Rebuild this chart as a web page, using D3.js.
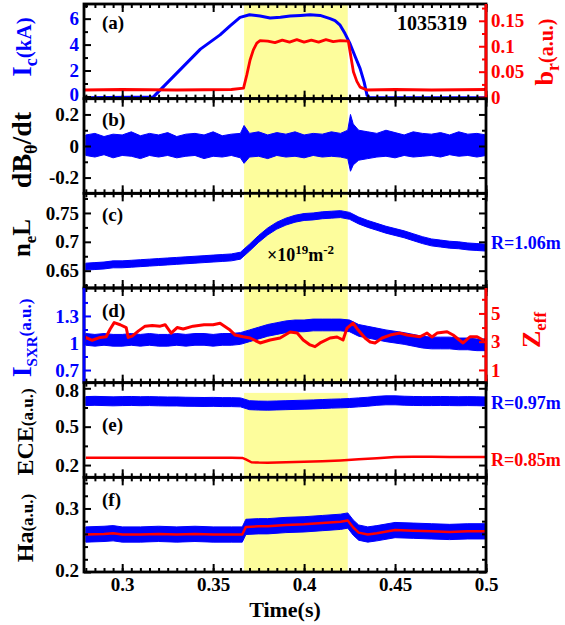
<!DOCTYPE html>
<html><head><meta charset="utf-8">
<script src="https://cdn.jsdelivr.net/npm/d3@7"></script>
<style>
body{margin:0;background:#fff}
text{font-family:"Liberation Serif","Times New Roman",serif;font-weight:bold}
</style>
</head><body>
<svg id="c" width="565" height="625"></svg>
<script>
// ---------------- DATA ----------------
const shotNumber = "1035319";
const shadeWindow = [0.367, 0.424];
const xMajorTicks = [0.3, 0.35, 0.4, 0.45, 0.5];
const xTickLabels = ["0.3", "0.35", "0.4", "0.45", "0.5"];

const tGrid = [0.28,0.285,0.29,0.295,0.30,0.305,0.31,0.315,0.32,0.325,0.33,0.335,0.34,0.345,0.35,0.355,0.36,0.365,0.37,0.375,0.38,0.385,0.39,0.395,0.40,0.405,0.41,0.415,0.42,0.425,0.43,0.435,0.44,0.445,0.45,0.455,0.46,0.465,0.47,0.475,0.48,0.485,0.49,0.495,0.50];

// (a) coil current Ic (kA) and br (a.u.)
const icT = [0.279,0.317,0.343,0.3538,0.3593,0.3648,0.370,0.3758,0.3813,0.387,0.3923,0.398,0.4033,0.4088,0.4143,0.417,0.4198,0.4225,0.4253,0.428,0.4308,0.433,0.4346,0.436,0.5];
const icV = [-0.1,-0.05,3.65,4.75,5.45,6.1,6.3,6.2,6.05,6.1,6.2,6.25,6.3,6.25,6.0,5.85,5.5,4.85,4.05,3.1,2.15,1.1,0.1,-0.1,-0.1];
const brT = [0.279,0.30,0.33,0.36,0.3667,0.3685,0.3703,0.3721,0.374,0.3758,0.38,0.384,0.388,0.392,0.396,0.40,0.404,0.408,0.412,0.416,0.42,0.4243,0.4257,0.4271,0.429,0.4308,0.4345,0.45,0.47,0.5];
const brV = [0.014,0.015,0.014,0.015,0.0176,0.0437,0.073,0.093,0.106,0.111,0.110,0.107,0.112,0.108,0.113,0.108,0.112,0.108,0.113,0.109,0.111,0.110,0.080,0.050,0.031,0.0196,0.014,0.015,0.014,0.015];

// (b) dB_theta/dt noise envelope
const dbT  = [0.28,0.285,0.29,0.295,0.30,0.305,0.31,0.315,0.32,0.325,0.33,0.335,0.34,0.345,0.35,0.355,0.36,0.365,0.367,0.37,0.375,0.38,0.385,0.39,0.395,0.40,0.405,0.41,0.415,0.42,0.424,0.4255,0.427,0.43,0.435,0.44,0.445,0.45,0.455,0.46,0.465,0.47,0.475,0.48,0.485,0.49,0.495,0.50];
const dbHi = [0.07,0.08,0.06,0.075,0.07,0.09,0.065,0.08,0.07,0.085,0.06,0.075,0.08,0.07,0.09,0.065,0.075,0.08,0.13,0.08,0.09,0.07,0.085,0.075,0.09,0.07,0.08,0.075,0.09,0.08,0.10,0.20,0.14,0.10,0.09,0.08,0.10,0.085,0.07,0.09,0.08,0.075,0.085,0.07,0.09,0.075,0.08,0.07];
const dbLo = [-0.06,-0.07,-0.055,-0.075,-0.06,-0.065,-0.08,-0.06,-0.07,-0.06,-0.075,-0.065,-0.06,-0.08,-0.065,-0.07,-0.06,-0.075,-0.11,-0.07,-0.065,-0.08,-0.06,-0.07,-0.065,-0.075,-0.06,-0.07,-0.065,-0.07,-0.08,-0.16,-0.12,-0.09,-0.08,-0.07,-0.065,-0.075,-0.06,-0.07,-0.065,-0.06,-0.07,-0.055,-0.065,-0.06,-0.07,-0.06];

// (c) line-integrated density (x1e19 m^-2) at R=1.06m
const nlCenter = [0.657,0.658,0.659,0.661,0.661,0.662,0.663,0.664,0.665,0.666,0.667,0.668,0.669,0.670,0.671,0.672,0.673,0.676,0.690,0.705,0.718,0.728,0.735,0.740,0.743,0.744,0.746,0.747,0.748,0.745,0.737,0.731,0.726,0.721,0.717,0.713,0.708,0.703,0.699,0.697,0.695,0.694,0.692,0.691,0.690];
const nlNoise = 0.006;

// (d) SXR intensity (a.u.) and Zeff
const sxrCenter = [1.04,1.03,1.04,1.03,1.03,1.04,1.03,1.04,1.03,1.03,1.04,1.03,1.04,1.04,1.03,1.04,1.04,1.05,1.08,1.11,1.14,1.16,1.18,1.19,1.19,1.20,1.20,1.20,1.20,1.19,1.14,1.12,1.10,1.08,1.065,1.05,1.03,1.01,1.00,1.00,1.00,0.99,0.99,0.98,0.98];
const sxrNoise = 0.065;
const zT = [0.279,0.2835,0.2879,0.2912,0.2934,0.2956,0.2989,0.3022,0.3033,0.3055,0.3088,0.3126,0.3165,0.3209,0.3236,0.3269,0.3302,0.3335,0.339,0.345,0.350,0.3538,0.3593,0.3621,0.3665,0.3703,0.3758,0.3813,0.3868,0.3923,0.3962,0.3995,0.4033,0.406,0.4088,0.4143,0.4181,0.4214,0.4236,0.4269,0.4297,0.4335,0.4363,0.439,0.4429,0.4473,0.4527,0.4566,0.4637,0.4676,0.4703,0.4731,0.4786,0.4819,0.4874,0.4912,0.4951,0.4984,0.5];
const zV = [3.35,3.1,3.3,3.35,3.9,4.35,4.2,4.0,3.3,3.4,3.75,4.1,4.15,4.1,4.2,3.6,4.0,3.9,4.1,4.2,4.2,4.3,3.82,3.47,3.35,3.26,2.91,3.12,3.26,3.68,3.61,3.12,2.77,2.65,2.91,3.26,3.33,3.12,3.96,4.32,3.82,3.26,2.98,2.91,3.26,3.47,3.61,3.47,3.35,3.61,3.33,3.61,3.70,3.47,2.91,3.35,3.35,3.12,3.1];

// (e) ECE (a.u.) at R=0.97m (blue) and R=0.85m (red)
const eceBlue = [0.700,0.702,0.700,0.698,0.700,0.701,0.699,0.700,0.698,0.697,0.697,0.695,0.694,0.693,0.694,0.692,0.692,0.690,0.668,0.665,0.664,0.666,0.668,0.670,0.672,0.674,0.677,0.680,0.682,0.685,0.690,0.695,0.702,0.706,0.706,0.703,0.701,0.700,0.700,0.701,0.700,0.699,0.700,0.699,0.697];
const eceNoise = 0.035;
const eceRT = [0.28,0.30,0.32,0.34,0.36,0.366,0.368,0.371,0.375,0.38,0.39,0.40,0.41,0.42,0.43,0.44,0.45,0.46,0.47,0.48,0.49,0.50];
const eceRV = [0.258,0.257,0.258,0.257,0.257,0.256,0.245,0.222,0.219,0.218,0.221,0.225,0.230,0.236,0.245,0.254,0.262,0.265,0.264,0.262,0.262,0.262];

// (f) H-alpha (a.u.)
const haT = [0.28,0.29,0.295,0.30,0.31,0.32,0.33,0.34,0.35,0.36,0.366,0.368,0.375,0.38,0.39,0.40,0.41,0.42,0.424,0.427,0.43,0.435,0.44,0.45,0.46,0.47,0.48,0.49,0.50];
const haRed = [0.259,0.260,0.261,0.259,0.259,0.260,0.259,0.260,0.259,0.259,0.259,0.271,0.272,0.272,0.274,0.275,0.277,0.279,0.281,0.270,0.262,0.259,0.261,0.266,0.265,0.264,0.263,0.264,0.264];
const haNoise = 0.012;

// y tick values
const aTicks = [0,2,4,6], aMinor = [1,3,5,7];
const brTicks = [0,0.05,0.1,0.15], brMinor = [0.025,0.075,0.125,0.175];
const bTicks = [-0.2,0,0.2], bMinor = [-0.1,0.1];
const cTicks = [0.65,0.7,0.75], cMinor = [0.625,0.675,0.725,0.775];
const dTicks = [0.7,1,1.3], dMinor = [0.85,1.15,1.45];
const zTicks = [1,3,5], zMinor = [2,4,6];
const eTicks = [0.2,0.5,0.8], eMinor = [0.35,0.65];
const fTicks = [0.2,0.3], fMinor = [0.22,0.24,0.26,0.28,0.32,0.34];

// ---------------- DRAWING ----------------
const BLUE = "#0000ff", RED = "#ff0000", YEL = "#fdfd9c", BLK = "#000";
const svg = d3.select("#c");
const L = 84, R = 486, T = 4, B = 572;
const nP = 6, ph = (B - T) / nP;
const x = d3.scaleLinear().domain([0.279, 0.5]).range([L, R]);
const xMinorTicks = d3.range(0.28, 0.5001, 0.005);

function lineOf(g, ts, vs, y, color, w) {
  g.append("path").datum(d3.zip(ts, vs))
    .attr("d", d3.line().x(d => x(d[0])).y(d => y(d[1])))
    .attr("fill", "none").attr("stroke", color).attr("stroke-width", w)
    .attr("stroke-linejoin", "round");
}
function bandOf(g, ts, lo, hi, y, color) {
  g.append("path").datum(d3.zip(ts, lo, hi))
    .attr("d", d3.area().x(d => x(d[0])).y0(d => y(d[1])).y1(d => y(d[2])))
    .attr("fill", color).attr("stroke", color).attr("stroke-width", 1);
}
const plus = (a, n) => a.map(v => v + n);

const panels = [
  { label: "(a)", ly: 25, dom: [-0.17, 7.13], major: aTicks, minor: aMinor, lab: BLUE, axis: BLK,
    right: { dom: [-0.003, 0.183], major: brTicks, minor: brMinor, color: RED },
    draw: (g, y, y2) => { lineOf(g, icT, icV, y, BLUE, 3); lineOf(g, brT, brV, y2, RED, 2.8); } },
  { label: "(b)", ly: 27, dom: [-0.3, 0.3], major: bTicks, minor: bMinor, lab: BLK, axis: BLK,
    draw: (g, y) => { bandOf(g, dbT, dbLo, dbHi, y, BLUE); } },
  { label: "(c)", ly: 28, dom: [0.62, 0.784], major: cTicks, minor: cMinor, lab: BLK, axis: BLK,
    draw: (g, y) => { bandOf(g, tGrid, plus(nlCenter, -nlNoise), plus(nlCenter, nlNoise), y, BLUE); } },
  { label: "(d)", ly: 29, dom: [0.56, 1.61], major: dTicks, minor: dMinor, lab: BLUE, axis: BLUE,
    right: { dom: [0.1, 6.8], major: zTicks, minor: zMinor, color: RED },
    draw: (g, y, y2) => { bandOf(g, tGrid, plus(sxrCenter, -sxrNoise), plus(sxrCenter, sxrNoise), y, BLUE); lineOf(g, zT, zV, y2, RED, 3); } },
  { label: "(e)", ly: 48, dom: [0.104, 0.844], major: eTicks, minor: eMinor, lab: BLK, axis: BLK, shadeTop: 0.764,
    draw: (g, y) => { bandOf(g, tGrid, plus(eceBlue, -eceNoise), plus(eceBlue, eceNoise), y, BLUE); lineOf(g, eceRT, eceRV, y, RED, 2.5); } },
  { label: "(f)", ly: 29, dom: [0.2, 0.349], major: fTicks, minor: fMinor, lab: BLK, axis: BLK,
    draw: (g, y) => { bandOf(g, haT, plus(haRed, -haNoise), plus(haRed, haNoise), y, BLUE); lineOf(g, haT, haRed, y, RED, 2.5); } }
];

function styleAxis(a, color, textColor) {
  a.select(".domain").remove();
  a.attr("font-family", null).attr("font-size", null);
  a.selectAll("line").attr("stroke", color).attr("stroke-width", 2);
  a.selectAll("text").attr("fill", textColor || color).style("font-size", "19px");
}

panels.forEach((p, i) => {
  const y0 = T + i * ph, y1 = y0 + ph;
  const y = d3.scaleLinear().domain(p.dom).range([y1, y0]);
  const y2 = p.right ? d3.scaleLinear().domain(p.right.dom).range([y1, y0]) : null;
  svg.append("clipPath").attr("id", "cp" + i).append("rect")
    .attr("x", L).attr("y", y0).attr("width", R - L).attr("height", ph);
  const g = svg.append("g");
  const gd = g.append("g").attr("clip-path", `url(#cp${i})`);
  const sTop = p.shadeTop != null ? y(p.shadeTop) : y0;
  gd.append("rect").attr("x", x(shadeWindow[0])).attr("y", sTop)
    .attr("width", x(shadeWindow[1]) - x(shadeWindow[0])).attr("height", y1 - sTop).attr("fill", YEL);
  p.draw(gd, y, y2);

  // frame
  g.append("rect").attr("x", L).attr("y", y0).attr("width", R - L).attr("height", ph)
    .attr("fill", "none").attr("stroke", BLK).attr("stroke-width", 2.8);

  // x ticks top & bottom (inward)
  [[d3.axisTop, y0], [d3.axisBottom, y1]].forEach(([ax, yy], k) => {
    const isLast = (k === 1 && i === nP - 1);
    const a1 = g.append("g").attr("transform", `translate(0,${yy})`)
      .call(ax(x).tickValues(xMajorTicks).tickSize(-8).tickPadding(6)
        .tickFormat(isLast ? ((d, j) => xTickLabels[j]) : ""));
    styleAxis(a1, BLK);
    const a2 = g.append("g").attr("transform", `translate(0,${yy})`)
      .call(ax(x).tickValues(xMinorTicks).tickSize(-4).tickFormat(""));
    styleAxis(a2, BLK);
  });

  // left y axis
  const la = g.append("g").attr("transform", `translate(${L},0)`)
    .call(d3.axisLeft(y).tickValues(p.major).tickSize(-7).tickPadding(5).tickFormat(d => String(d)));
  styleAxis(la, p.axis, p.lab);
  // keep labels sitting on a panel edge clear of the neighbouring panel's labels
  la.selectAll("text").attr("dy", d => {
    const py = y(d);
    if (py - y0 < 6) return "0.42em";
    if (y1 - py < 6) return "0.22em";
    return "0.32em";
  });
  const lm = g.append("g").attr("transform", `translate(${L},0)`)
    .call(d3.axisLeft(y).tickValues(p.minor).tickSize(-4).tickFormat(""));
  styleAxis(lm, p.axis);
  if (p.axis !== BLK) g.append("line").attr("x1", L).attr("x2", L).attr("y1", y0).attr("y2", y1)
    .attr("stroke", p.axis).attr("stroke-width", 2.8);

  // right y axis
  if (p.right) {
    const ra = g.append("g").attr("transform", `translate(${R},0)`)
      .call(d3.axisRight(y2).tickValues(p.right.major).tickSize(-7).tickPadding(5).tickFormat(d => String(d)));
    styleAxis(ra, p.right.color);
    const rm = g.append("g").attr("transform", `translate(${R},0)`)
      .call(d3.axisRight(y2).tickValues(p.right.minor).tickSize(-4).tickFormat(""));
    styleAxis(rm, p.right.color);
    g.append("line").attr("x1", R).attr("x2", R).attr("y1", y0).attr("y2", y1)
      .attr("stroke", p.right.color).attr("stroke-width", 2.8);
  } else {
    const ra = g.append("g").attr("transform", `translate(${R},0)`)
      .call(d3.axisRight(y).tickValues(p.major).tickSize(-7).tickFormat(""));
    styleAxis(ra, BLK);
    const rm = g.append("g").attr("transform", `translate(${R},0)`)
      .call(d3.axisRight(y).tickValues(p.minor).tickSize(-4).tickFormat(""));
    styleAxis(rm, BLK);
  }
  // panel label
  svg.append("text").attr("x", 102).attr("y", y0 + p.ly).style("font-size", "19px").text(p.label);
});

// ---------- text annotations ----------
function richText(xp, yp, parts, color, rotate, anchor) {
  const t = svg.append("text")
    .attr("transform", `translate(${xp},${yp})` + (rotate ? " rotate(-90)" : ""))
    .attr("text-anchor", anchor || "middle").attr("fill", color);
  parts.forEach(p => {
    t.append("tspan").attr("dy", p.dy || 0).style("font-size", p.s + "px").text(p.t);
  });
  return t;
}
richText(31, 47, [{t:"I", s:27}, {t:"c", s:18, dy:6}, {t:"(kA)", s:21, dy:-6}], BLUE, true);
richText(553, 52, [{t:"b", s:26}, {t:"r", s:18, dy:6}, {t:"(a.u.)", s:20, dy:-6}], RED, true);
richText(31, 150, [{t:"dB", s:28}, {t:"θ", s:18, dy:6}, {t:"/dt", s:28, dy:-6}], BLK, true);
richText(30, 238, [{t:"n", s:25}, {t:"e", s:17, dy:6}, {t:"L", s:25, dy:-6}], BLK, true);
richText(31, 338, [{t:"I", s:28}, {t:"SXR", s:15, dy:6}, {t:"(a.u.)", s:17, dy:-6}], BLUE, true);
richText(540, 330, [{t:"Z", s:26}, {t:"eff", s:17, dy:6}], RED, true);
richText(33, 432, [{t:"ECE", s:24}, {t:"(a.u.)", s:17}], BLK, true);
richText(33, 528, [{t:"Ha", s:24}, {t:"(a.u.)", s:17}], BLK, true);

svg.append("text").attr("x", 285).attr("y", 617).attr("text-anchor", "middle")
  .style("font-size", "22px").text("Time(s)");
svg.append("text").attr("x", 467).attr("y", 30).attr("text-anchor", "end")
  .style("font-size", "20px").text(shotNumber);
richText(267, 261, [{t:"×10", s:18}, {t:"19", s:13, dy:-7}, {t:"m", s:18, dy:7}, {t:"-2", s:13, dy:-7}], BLK, false, "start");
richText(491, 249, [{t:"R=1.06m", s:18}], BLUE, false, "start");
richText(491, 409, [{t:"R=0.97m", s:18}], BLUE, false, "start");
richText(491, 466, [{t:"R=0.85m", s:18}], RED, false, "start");
</script>
</body></html>
